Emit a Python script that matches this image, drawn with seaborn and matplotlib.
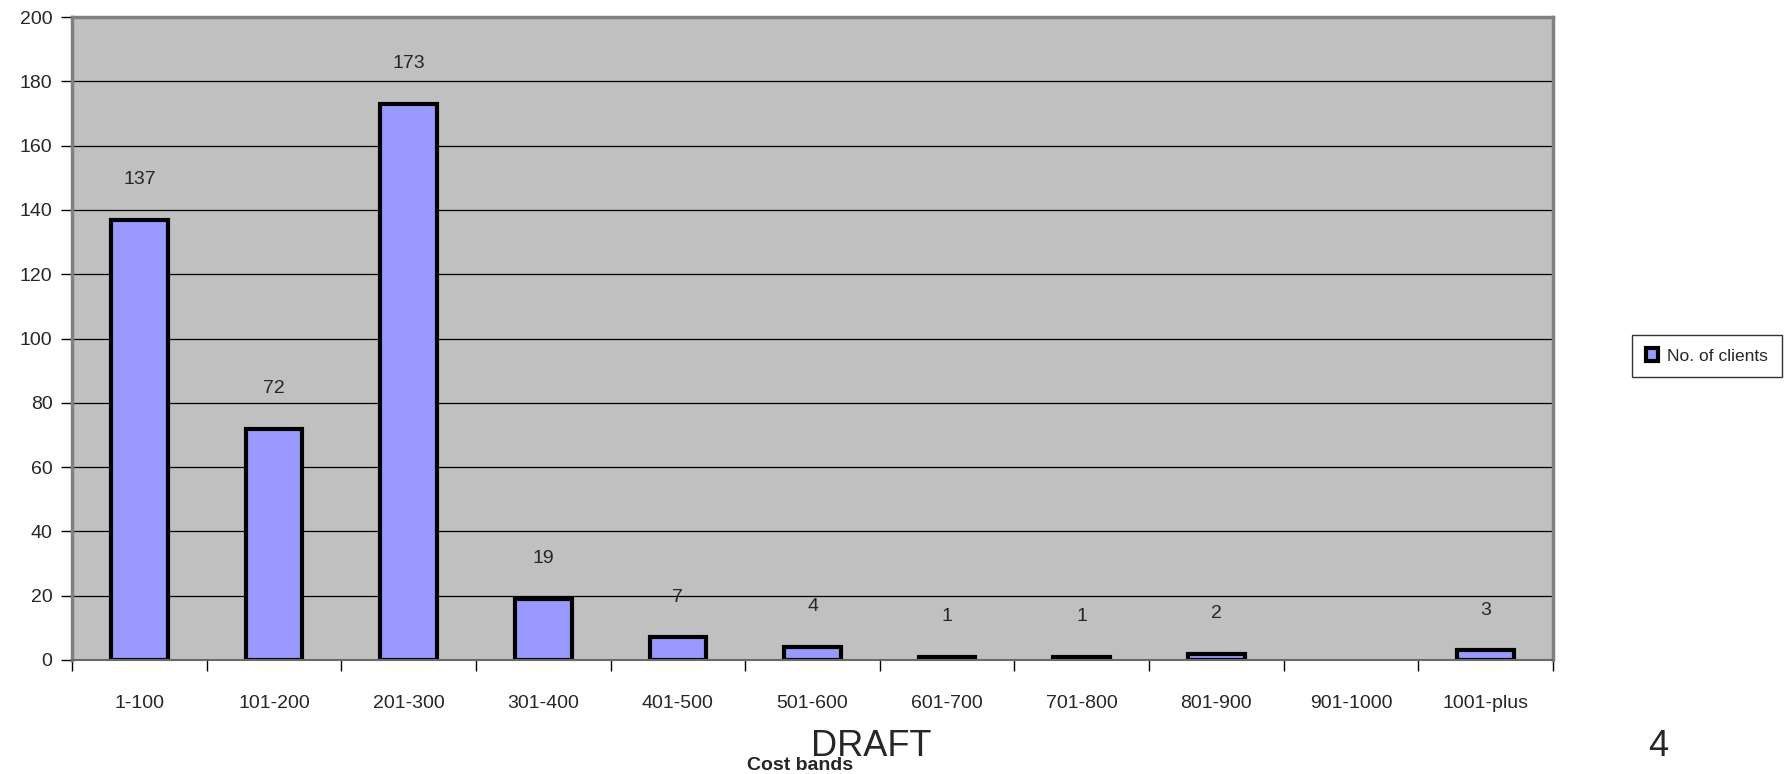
import matplotlib
matplotlib.use("Agg")
import matplotlib.pyplot as plt
import seaborn as sns
import numpy as np

categories = ["1-100", "101-200", "201-300", "301-400", "401-500", "501-600",
              "601-700", "701-800", "801-900", "901-1000", "1001-plus"]
values = [137, 72, 173, 19, 7, 4, 1, 1, 2, 0, 3]
series_name = "No. of clients"
y_ticks = list(range(0, 201, 20))

sns.set_theme(style="white")
plt.rcParams['font.family'] = ['Liberation Sans', 'DejaVu Sans']

fig = plt.figure(figsize=(17.84, 7.74), dpi=100)
ax = fig.add_axes([72/1784, 1-660/774, (1553-72)/1784, (660-17)/774])
ax.set_facecolor('#C0C0C0')

sns.barplot(x=categories, y=values, color='#9999FF', edgecolor='black',
            linewidth=3, width=0.42, ax=ax, label=series_name, saturation=1)
for p, v in zip(ax.patches, values):
    if v == 0:
        p.set_visible(False)

ax.set_ylim(0, 200)
ax.set_xlim(-0.5, len(categories) - 0.5)
ax.set_yticks(y_ticks)
ax.yaxis.grid(True, color='black', linewidth=0.9)
ax.xaxis.grid(False)
ax.set_axisbelow(True)

for i, v in enumerate(values):
    if v > 0:
        ax.annotate(str(v), (i, v), xytext=(0, 29), textcoords='offset points',
                    ha='center', va='center', fontsize=14)

ax.tick_params(axis='y', which='major', length=8, width=1, color='black',
               labelsize=14, pad=6, left=True)
ax.set_xticks(np.arange(len(categories)))
ax.set_xticklabels(categories)
ax.set_xticks(np.arange(-0.5, len(categories)), minor=True)
ax.tick_params(axis='x', which='major', length=0, labelsize=14, pad=25)
ax.tick_params(axis='x', which='minor', length=8, width=1, color='black', bottom=True)

for s in ['left', 'top', 'right']:
    ax.spines[s].set_color('#808080')
    ax.spines[s].set_linewidth(2.5)
    ax.spines[s].set_visible(True)
ax.spines['bottom'].set_color('#6a6a6a')
ax.spines['bottom'].set_linewidth(1.5)
ax.set_xlabel('')
ax.set_ylabel('')

leg = ax.get_legend()
if leg is not None:
    leg.remove()
handles, labels = ax.get_legend_handles_labels()
lg = fig.legend(handles[:1], labels[:1], loc='center', bbox_to_anchor=(1707/1784, 1-356/774),
                fontsize=12.5, frameon=True, fancybox=False, edgecolor='black',
                handlelength=0.7, handleheight=0.7, handletextpad=0.5, borderpad=0.8)
lg.get_frame().set_linewidth(1)

fig.text(871/1784, 1-747/774, "DRAFT", ha='center', va='center', fontsize=26)
fig.text(800/1784, 1-765/774, "Cost bands", ha='center', va='center', fontsize=14,
         fontweight='bold')
fig.text(1658/1784, 1-747/774, "4", ha='center', va='center', fontsize=26)

fig.savefig("out.png", dpi=100, facecolor='white')
